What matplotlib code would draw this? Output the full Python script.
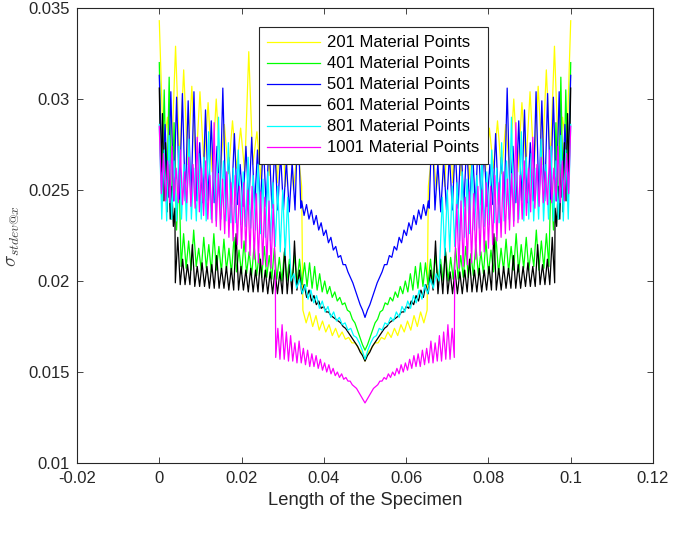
import matplotlib
matplotlib.use('Agg')
import numpy as np
import matplotlib.pyplot as plt
from matplotlib.ticker import FormatStrFormatter

plt.rcParams['font.family'] = ['Liberation Sans', 'DejaVu Sans']
plt.rcParams['mathtext.fontset'] = 'cm'

# Values, left half of the specimen only (x and y in units of 1e-3).
# Each segment: (x start, x end, y values read left to right). The curves are symmetric
# about the mid point x = 0.05, so the right half is the mirror image.
labels = ['201 Material Points', '401 Material Points', '501 Material Points',
          '601 Material Points', '801 Material Points', '1001 Material Points']
colors = ['#FFFF00', '#00FF00', '#0000FF', '#000000', '#00FFFF', '#FF00FF']

mp201 = [
    (0.0, 34.6, [34.3, 27.2, 29.0, 26.5, 32.9, 26.6, 31.6, 26.4, 30.7, 26.2,
                 30.4, 26.3, 29.8, 26.0, 30.0, 26.1, 28.6, 25.9, 28.8, 26.2,
                 28.4, 26.0, 32.6, 26.4, 28.2, 25.6, 30.2, 25.8, 28.8, 25.4,
                 29.6, 25.2, 28.2, 25.0, 27.4, 25.2]),
    (34.9, 50.0, [18.4, 17.7, 18.3, 17.5, 18.1, 17.3, 17.8, 17.2, 17.6, 17.0,
                  17.4, 16.9, 17.2, 16.8, 16.9, 16.6, 16.6, 16.3, 16.1, 15.6]),
]
mp401 = [
    (0.0, 4.8, [32.0, 24.6, 30.5, 24.0, 31.2, 23.4, 28.7, 22.8, 26.0]),
    (5.3, 50.0, [20.8, 22.6, 20.7, 22.2, 20.6, 22.8, 20.8, 21.8, 20.6, 22.4,
                 20.7, 22.0, 20.5, 22.6, 20.6, 21.9, 20.5, 22.3, 20.6, 21.8,
                 20.4, 22.4, 20.5, 21.7, 20.4, 22.2, 20.4, 21.6, 20.3, 22.0,
                 20.3, 21.5, 20.2, 21.9, 20.2, 21.4, 20.1, 21.8, 20.1, 21.3,
                 20.0, 21.6, 20.0, 21.2, 19.9, 21.4, 19.9, 21.2, 19.8, 21.0,
                 19.7, 21.0, 19.6, 20.8, 19.5, 20.4, 19.4, 20.0, 19.3, 19.7,
                 19.1, 19.4, 18.9, 19.1, 18.7, 18.8, 18.4, 18.3, 17.9, 17.7,
                 17.3, 16.9, 16.5, 16.2]),
]
mp501 = [
    (0.0, 34.4, [31.3, 25.0, 28.6, 24.6, 30.4, 24.4, 30.1, 24.5, 30.3, 24.4,
                 29.9, 24.3, 30.4, 24.4, 27.6, 24.3, 29.4, 24.4, 28.8, 24.3,
                 27.4, 24.2, 30.6, 24.3, 26.8, 24.2, 28.1, 24.2, 26.4, 24.1,
                 27.4, 24.2, 27.9, 24.1, 27.2, 24.0, 27.7, 24.1, 27.7, 24.0,
                 27.4, 23.9, 27.0, 23.9, 26.6, 23.8, 26.5, 23.9, 28.9, 24.0]),
    (34.6, 50.0, [24.4, 23.6, 24.2, 23.4, 23.9, 23.1, 23.6, 22.8, 23.2, 22.5,
                  22.8, 22.1, 22.4, 21.7, 21.9, 21.3, 21.4, 20.9, 20.9, 20.5,
                  20.2, 19.9, 19.5, 19.1, 18.7, 18.4, 18.0]),
]
mp601 = [
    (0.0, 3.8, [30.6, 26.0, 29.2, 24.4, 27.6, 23.8, 26.4, 23.4, 25.2, 23.0, 24.0]),
    (3.9, 50.0, [19.9, 22.4, 19.8, 21.2, 19.8, 20.9, 19.8, 22.0, 19.7, 20.8,
                 19.7, 21.0, 19.7, 20.8, 19.6, 20.9, 19.6, 21.4, 19.6, 20.7,
                 19.6, 20.8, 19.5, 20.7, 19.5, 22.6, 19.5, 20.8, 19.5, 20.6,
                 19.4, 20.7, 19.4, 20.6, 19.4, 21.2, 19.4, 20.6, 19.3, 20.5,
                 19.3, 20.6, 19.3, 20.5, 19.3, 21.8, 19.3, 20.9, 19.3, 22.2,
                 19.5, 20.6, 19.3, 19.8, 19.1, 19.5, 18.9, 19.2, 18.7, 18.9,
                 18.5, 18.6, 18.3, 18.3, 18.1, 18.0, 17.9, 17.8, 17.7, 17.5,
                 17.4, 17.2, 17.0, 16.8, 16.6, 16.4, 16.1, 15.9, 15.6]),
]
mp801 = [
    (0.0, 31.8, [28.6, 23.4, 27.2, 23.3, 28.0, 23.4, 26.6, 23.3, 27.4, 23.4,
                 26.4, 23.3, 27.8, 23.4, 26.2, 23.3, 27.0, 23.4, 26.8, 23.3,
                 28.2, 23.4, 26.4, 23.3, 29.0, 23.4, 26.6, 23.3, 27.6, 23.2,
                 26.2, 23.2, 27.2, 23.1, 26.0, 23.0, 26.8, 22.9, 25.8, 22.8,
                 26.4, 22.6, 25.6, 22.4, 26.0, 22.2, 25.4, 21.9, 25.2, 21.6,
                 25.0, 21.4, 24.6, 21.2]),
    (32.0, 50.0, [20.0, 20.4, 19.6, 20.1, 19.3, 19.8, 19.0, 19.5, 18.8, 19.2,
                  18.5, 18.9, 18.3, 18.6, 18.0, 18.3, 17.8, 18.0, 17.6, 17.7,
                  17.3, 17.4, 17.0, 16.9, 16.6, 16.2, 15.7]),
]
mp1001 = [
    (0.0, 28.2, [28.5, 24.8, 27.0, 24.4, 26.6, 24.3, 27.4, 24.4, 26.2, 24.3,
                 27.2, 24.2, 26.0, 24.3, 26.8, 24.1, 26.4, 24.0, 27.9, 23.8,
                 26.2, 23.6, 26.6, 23.4, 25.8, 23.2, 28.7, 23.0, 25.9, 22.8,
                 25.6, 22.6, 26.0, 22.4, 25.4, 22.2, 25.8, 22.0, 25.2, 21.8,
                 25.4, 21.6, 25.0, 21.4, 25.2, 21.2, 24.8, 21.0, 24.9, 20.9,
                 24.6, 20.8, 24.4, 20.7, 24.2, 20.6]),
    (28.3, 50.0, [15.8, 17.4, 15.7, 17.6, 15.7, 17.2, 15.6, 17.0, 15.6, 16.6,
                  15.5, 16.7, 15.5, 16.3, 15.4, 16.2, 15.3, 16.0, 15.3, 15.9,
                  15.2, 15.7, 15.1, 15.5, 15.0, 15.4, 14.9, 15.2, 14.8, 15.0,
                  14.7, 14.9, 14.6, 14.7, 14.5, 14.5, 14.3, 14.2, 14.1, 13.9,
                  13.7, 13.5, 13.3]),
]
series = [mp201, mp401, mp501, mp601, mp801, mp1001]
specimen_length = 100.0  # in 1e-3


def full_curve(segments):
    """Left half from the segments, then mirror it about the mid point."""
    xs = np.concatenate([np.linspace(a, b, len(v)) for a, b, v in segments])
    ys = np.concatenate([np.asarray(v, dtype=float) for a, b, v in segments])
    x = np.concatenate([xs, specimen_length - xs[::-1][1:]])
    y = np.concatenate([ys, ys[::-1][1:]])
    return x * 1e-3, y * 1e-3


fig = plt.figure(figsize=(6.85, 5.33), dpi=100)
ax = fig.add_axes([0.1124, 0.1313, 0.8409, 0.8537])

for segs, col, lab in zip(series, colors, labels):
    x, y = full_curve(segs)
    ax.plot(x, y, color=col, linewidth=0.9, label=lab)

ax.set_xlim(-0.02, 0.12)
ax.set_ylim(0.01, 0.035)
ax.set_xticks(np.arange(-0.02, 0.121, 0.02))
ax.set_yticks(np.arange(0.01, 0.0351, 0.005))
ax.xaxis.set_major_formatter(FormatStrFormatter('%g'))
ax.yaxis.set_major_formatter(FormatStrFormatter('%g'))

dark = '#262626'
for sp in ax.spines.values():
    sp.set_color(dark)
    sp.set_linewidth(0.8)
ax.tick_params(direction='in', top=True, right=True, length=4, width=0.6,
               colors=dark, labelsize=12)
ax.tick_params(axis='x', pad=6)
ax.tick_params(axis='y', pad=5)

ax.set_xlabel('Length of the Specimen', fontsize=13.2, color=dark, labelpad=4)
ax.set_ylabel(r'$\sigma_{stdev@x}$', fontsize=14, color='#404040')
ax.yaxis.set_label_coords(-0.095, 0.5)

leg = ax.legend(loc='upper center', bbox_to_anchor=(0.514, 0.958), fontsize=12,
                handlelength=3.2, handletextpad=0.4, labelspacing=0.36,
                borderpad=0.5, borderaxespad=0, fancybox=False, framealpha=1)
leg.get_frame().set_edgecolor(dark)
leg.get_frame().set_linewidth(0.8)

fig.savefig('out.png', dpi=100)
